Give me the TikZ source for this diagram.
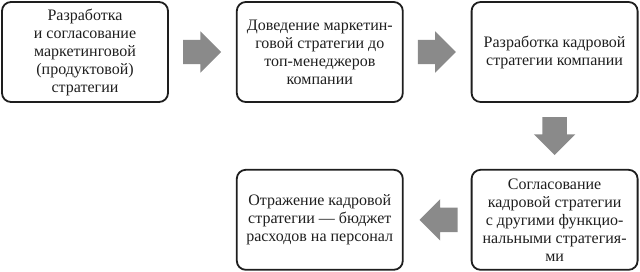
\documentclass[tikz,border=0pt]{standalone}
\usepackage{fontspec}
\setmainfont{Liberation Serif}
\usetikzlibrary{positioning,shapes.arrows}
\definecolor{framecol}{HTML}{1E1E1E}
\definecolor{arrowgray}{HTML}{8A8A8A}
\tikzset{
  stagebox/.style={draw=framecol, line width=1.8pt, rounded corners=9pt, align=center,
    minimum width=166pt, minimum height=100pt, inner sep=2pt, text=framecol,
    font=\fontsize{16pt}{18pt}\selectfont},
  blockarr/.style={single arrow, fill=arrowgray, draw=none, inner xsep=0pt, inner ysep=12pt,
    minimum height=38pt, single arrow head extend=8.5pt, single arrow tip angle=90, anchor=tail}
}
\begin{document}
\begin{tikzpicture}[node distance=67pt]
  \useasboundingbox (0,0) rectangle (640pt,-271pt);
  \node[stagebox] (develop) at (85pt,-52pt) {Разработка\\и согласование\\маркетинговой\\(продуктовой)\\стратегии};
  \node[stagebox, right=of develop] (deliver) {Доведение маркетин-\\говой стратегии до\\топ-менеджеров\\компании};
  \node[stagebox, right=of deliver] (hrstrat) {Разработка кадровой\\стратегии компании};
  \node[stagebox, below=66pt of hrstrat] (agree) {Согласование\\кадровой стратегии\\с другими функцио-\\нальными стратегия-\\ми};
  \node[stagebox, left=of agree] (budget) {Отражение кадровой\\стратегии — бюджет\\расходов на персонал};
  % block arrows between the stages
  \node[blockarr] (arrA) at ([xshift=14pt]develop.east) {};
  \node[blockarr] (arrB) at ([xshift=14pt]deliver.east) {};
  \node[blockarr, rotate=-90] (arrC) at ([yshift=-14pt]hrstrat.south) {};
  \node[blockarr, rotate=180] (arrD) at ([xshift=-13pt]agree.west) {};
\end{tikzpicture}
\end{document}
